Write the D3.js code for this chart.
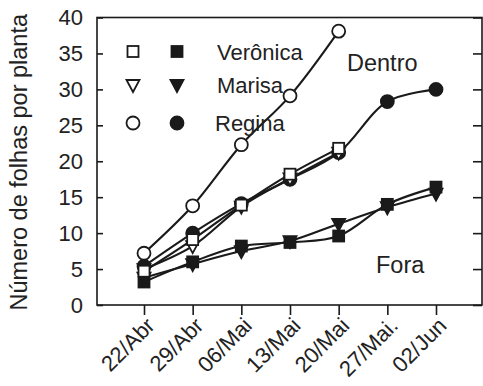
<!DOCTYPE html>
<html><head><meta charset="utf-8">
<script src="https://cdn.jsdelivr.net/npm/d3@7"></script>
<style>body{margin:0;background:#fff}svg{display:block}text{font-family:"Liberation Sans",Arial,sans-serif;fill:#222}</style>
</head><body><svg id="c" width="483" height="386"></svg>
<script>
const dates = ["22/Abr","29/Abr","06/Mai","13/Mai","20/Mai","27/Mai.","02/Jun"];
const yTicks = [0,5,10,15,20,25,30,35,40];
const veronicaDentro = [4.7, 9.1, 13.9, 18.2, 21.8];
const marisaDentro   = [5.0, 8.2, 13.7, 17.6, 21.2];
const reginaDentro   = [7.2, 13.8, 22.3, 29.1, 38.1];
const veronicaFora   = [3.2, 6.0, 8.2, 8.7, 9.6, 14.0, 16.4];
const marisaFora     = [3.8, 5.7, 7.5, 8.9, 11.3, 13.6, 15.5];
const reginaFora     = [5.4, 10.0, 14.1, 17.5, 21.2, 28.3, 30.0];
const legendNames = ["Verônica","Marisa","Regina"];

const svg = d3.select("#c");
const L=97, R=482, T=17.5, B=305;
const x = d3.scalePoint().domain(dates).range([144,436]);
const y = d3.scaleLinear().domain([0,40]).range([B,T]);
const ink="#1a1a1a";

svg.append("rect").attr("x",L).attr("y",T).attr("width",R-L).attr("height",B-T)
  .attr("fill","none").attr("stroke",ink).attr("stroke-width",1.6);

const yl = svg.append("g").attr("transform",`translate(${L},0)`)
  .call(d3.axisLeft(y).tickValues(yTicks).tickSizeInner(-6).tickSizeOuter(0).tickPadding(14));
yl.select(".domain").remove();
yl.selectAll("line").attr("stroke",ink).attr("stroke-width",1.6);
yl.selectAll("text").attr("font-size",22).attr("fill","#222").attr("font-family","Liberation Sans, Arial, sans-serif");
const yr = svg.append("g").attr("transform",`translate(${R},0)`)
  .call(d3.axisRight(y).tickValues(yTicks).tickSizeInner(-9).tickSizeOuter(0).tickFormat(""));
yr.select(".domain").remove();
yr.selectAll("line").attr("stroke",ink).attr("stroke-width",1.6);

const xa = svg.append("g").attr("transform",`translate(0,${B})`)
  .call(d3.axisBottom(x).tickSizeInner(10).tickSizeOuter(0).tickFormat(""));
xa.select(".domain").remove();
xa.selectAll("line").attr("stroke",ink).attr("stroke-width",1.6);
svg.append("g").selectAll("text").data(dates).join("text")
  .attr("transform",d=>`translate(${x(d)+12},${B+22}) rotate(-45)`)
  .attr("text-anchor","end").attr("font-size",22).text(d=>d);

svg.append("text").attr("transform",`translate(27,${(T+B)/2+1}) rotate(-90)`)
  .attr("text-anchor","middle").attr("font-size",23.5).text("Número de folhas por planta");

const line = d3.line().x((d,i)=>x(dates[i])).y(d=>y(d)).curve(d3.curveCatmullRom.alpha(0.5));
const series = [
  {v:veronicaFora, s:"square", f:true},
  {v:marisaFora, s:"tri", f:true},
  {v:reginaFora, s:"circle", f:true},
  {v:marisaDentro, s:"tri", f:false},
  {v:veronicaDentro, s:"square", f:false},
  {v:reginaDentro, s:"circle", f:false}
];
const gl = svg.append("g");
series.forEach(s=>{
  gl.append("path").datum(s.v).attr("d",line).attr("fill","none").attr("stroke",ink).attr("stroke-width",2.1);
});
function sym(g,shape,filled,cx,cy){
  let p;
  if(shape==="square") p=g.append("rect").attr("x",cx-5.5).attr("y",cy-5.5).attr("width",11).attr("height",11);
  else if(shape==="circle") p=g.append("circle").attr("cx",cx).attr("cy",cy).attr("r",6.5);
  else p=g.append("path").attr("d",`M${cx-6.5},${cy-5}L${cx+6.5},${cy-5}L${cx},${cy+7}Z`);
  p.attr("fill",filled?ink:"#fff").attr("stroke",ink).attr("stroke-width",1.8);
}
const gm = svg.append("g");
series.forEach(s=>{ s.v.forEach((v,i)=>sym(gm,s.s,s.f,x(dates[i]),y(v))); });

const shapes=["square","tri","circle"], ly=[51.5,85,123];
legendNames.forEach((n,i)=>{
  sym(svg,shapes[i],false,133,ly[i]);
  sym(svg,shapes[i],true,177,ly[i]);
  svg.append("text").attr("x",i===2?215:217).attr("y",ly[i]+8).attr("font-size",22).text(n);
});
svg.append("text").attr("x",347).attr("y",71).attr("font-size",23.5).text("Dentro");
svg.append("text").attr("x",376).attr("y",273).attr("font-size",23.5).text("Fora");
</script></body></html>
